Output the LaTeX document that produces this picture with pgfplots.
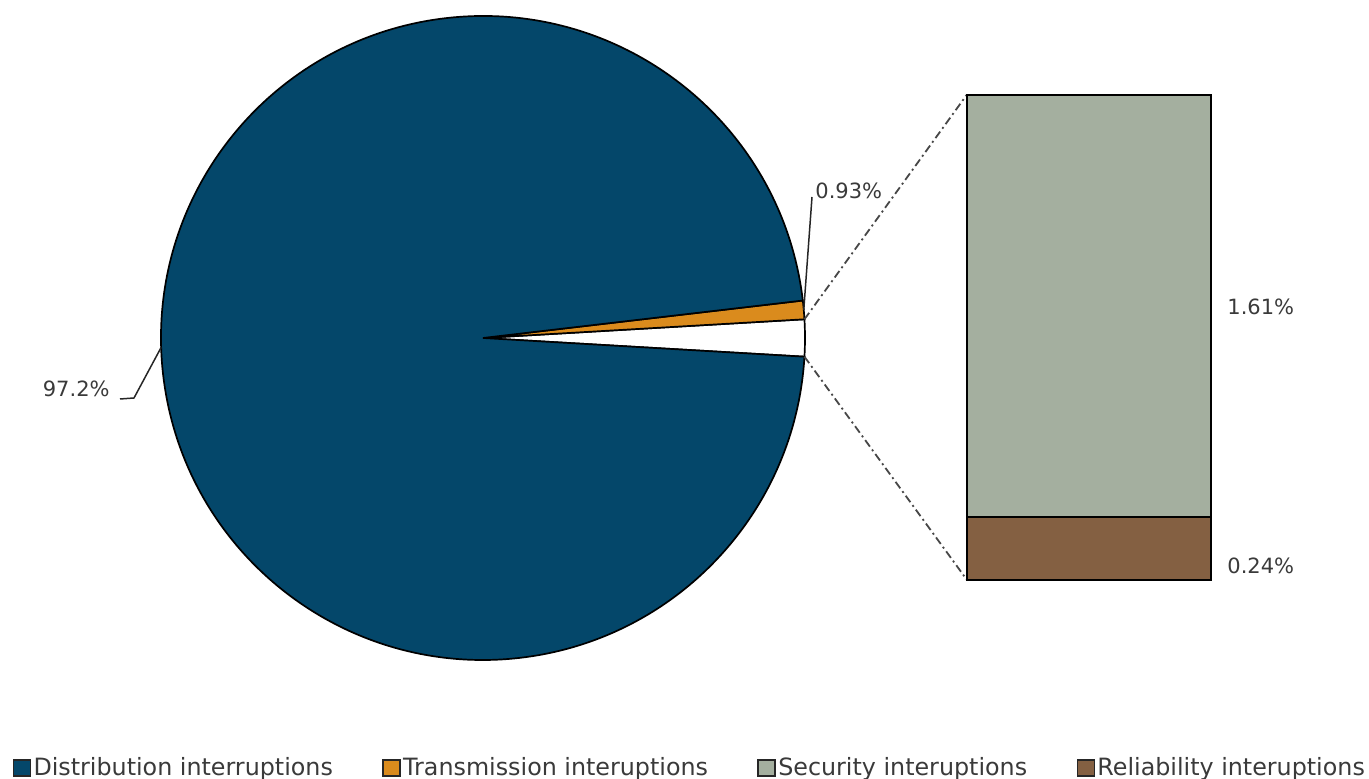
\documentclass[border=0pt]{standalone}
\usepackage{pgfplots}
\pgfplotsset{compat=1.18}
\usepackage{fontspec}
\setmainfont{DejaVu Sans}
\definecolor{cDist}{RGB}{4,71,106}
\definecolor{cTrans}{RGB}{218,139,29}
\definecolor{cSec}{RGB}{164,175,159}
\definecolor{cRel}{RGB}{132,96,66}
\definecolor{cText}{RGB}{58,58,58}
% data (percent)
\def\vDist{97.2}
\def\vTrans{0.93}
\def\vSec{1.61}
\def\vRel{0.24}
\pgfmathsetmacro{\vOther}{\vSec+\vRel}
\pgfmathsetmacro{\vTot}{\vDist+\vTrans+\vOther}
\pgfmathsetmacro{\aA}{-180*\vOther/\vTot}
\pgfmathsetmacro{\aB}{180*\vOther/\vTot}
\pgfmathsetmacro{\aC}{\aB+360*\vTrans/\vTot}
\pgfmathsetmacro{\aD}{\aA+360}
\pgfmathsetmacro{\aTm}{(\aB+\aC)/2}
\pgfmathsetmacro{\aDm}{(\aC+\aD)/2}
\begin{document}
\begin{tikzpicture}
\begin{axis}[name=pie, scale only axis, width=684.5pt, height=389.5pt,
  xmin=0, xmax=1369, ymin=0, ymax=779, hide axis, clip=false,
  legend columns=4,
  legend image code/.code={\draw[#1, draw=black!85, line width=0.7pt] (0pt,-4pt) rectangle (8.5pt,4pt);},
  legend style={at={(axis cs:690,11)}, anchor=center, draw=none, fill=none,
    font=\fontsize{11.9}{14}\selectfont, text=cText,
    nodes={inner xsep=1.2pt, inner ysep=1pt},
    /tikz/every even column/.append style={column sep=23.5pt}},
  ]
\addlegendimage{fill=cDist}\addlegendentry{Distribution interruptions}
\addlegendimage{fill=cTrans}\addlegendentry{Transmission interuptions}
\addlegendimage{fill=cSec}\addlegendentry{Security interuptions}
\addlegendimage{fill=cRel}\addlegendentry{Reliability interuptions}
\coordinate (C) at (axis cs:483,441);
\coordinate (B0) at (axis cs:967,199);
% wedges
\filldraw[fill=white, draw=black, line width=0.85pt] (C) -- ++(\aA:161pt) arc[start angle=\aA, end angle=\aB, radius=161pt] -- cycle;
\filldraw[fill=cTrans, draw=black, line width=0.85pt] (C) -- ++(\aB:161pt) arc[start angle=\aB, end angle=\aC, radius=161pt] -- cycle;
\filldraw[fill=cDist, draw=black, line width=0.85pt] (C) -- ++(\aC:161pt) arc[start angle=\aC, end angle=\aD, radius=161pt] -- cycle;
% connection lines
\draw[black!72, line width=0.9pt, dash pattern=on 4pt off 1.8pt on 1pt off 1.8pt] (C) ++(\aB:161pt) -- (axis cs:967,684.5);
\draw[black!72, line width=0.9pt, dash pattern=on 4pt off 1.8pt on 1pt off 1.8pt] (C) ++(\aA:161pt) -- (axis cs:967,199);
% leader lines and labels
\draw[black!85, line width=0.75pt] (C) ++(\aTm:161pt) -- (axis cs:812,582);
\node[anchor=base west, inner sep=0pt, text=cText, font=\fontsize{10.5}{12}\selectfont] at (axis cs:815,580) {0.93\%};
\draw[black!85, line width=0.75pt] (C) ++(\aDm:161pt) -- (axis cs:134,381) -- (axis cs:120,380);
\node[anchor=base east, inner sep=0pt, text=cText, font=\fontsize{10.5}{12}\selectfont] at (axis cs:110,382) {97.2\%};
\node[anchor=west, inner sep=0pt, text=cText, font=\fontsize{10.5}{12}\selectfont] at (axis cs:1227,472) {1.61\%};
\node[anchor=west, inner sep=0pt, text=cText, font=\fontsize{10.5}{12}\selectfont] at (axis cs:1227,213) {0.24\%};
\end{axis}
\begin{axis}[at={(B0)}, anchor=south west, scale only axis, width=122pt, height=242.5pt,
  xmin=-0.5, xmax=0.5, ymin=0, ymax=1.85, hide axis, clip=false,
  ybar stacked, bar width=122pt]
\addplot[fill=cRel, draw=black, line width=0.85pt] coordinates {(0,\vRel)};
\addplot[fill=cSec, draw=black, line width=0.85pt] coordinates {(0,\vSec)};
\end{axis}
\pgfresetboundingbox
\useasboundingbox (pie.south west) rectangle (pie.north east);
\end{tikzpicture}
\end{document}
